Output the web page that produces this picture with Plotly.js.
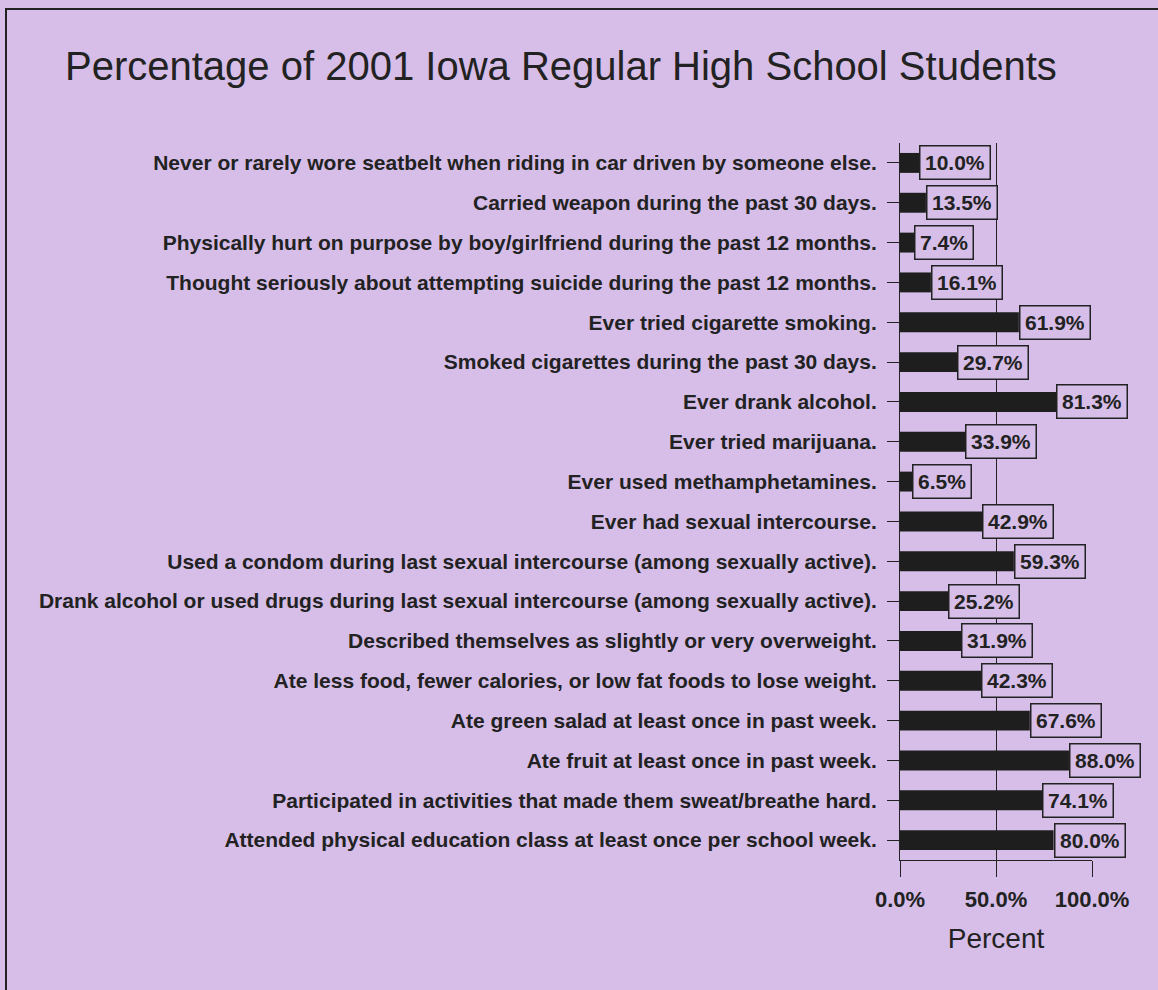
<!DOCTYPE html>
<html>
<head>
<meta charset="utf-8">
<script src="https://cdn.plot.ly/plotly-3.0.1.min.js"></script>
<style>
  html, body { margin: 0; padding: 0; background: #d6bee8; }
  #wrap { position: relative; width: 1158px; height: 990px; overflow: hidden; }
  #frame { position: absolute; left: 5px; top: 8px; width: 1200px; height: 1100px; border: 2px solid #222; box-sizing: border-box; pointer-events: none; }
  #chart { width: 1158px; height: 990px; }
</style>
</head>
<body>
<div id="wrap">
  <div id="chart"></div>
  <div id="frame"></div>
</div>
<script>
const categories = [
  "Never or rarely wore seatbelt when riding in car driven by someone else.",
  "Carried weapon during the past 30 days.",
  "Physically hurt on purpose by boy/girlfriend during the past 12 months.",
  "Thought seriously about attempting suicide during the past 12 months.",
  "Ever tried cigarette smoking.",
  "Smoked cigarettes during the past 30 days.",
  "Ever drank alcohol.",
  "Ever tried marijuana.",
  "Ever used methamphetamines.",
  "Ever had sexual intercourse.",
  "Used a condom during last sexual intercourse (among sexually active).",
  "Drank alcohol or used drugs during last sexual intercourse (among sexually active).",
  "Described themselves as slightly or very overweight.",
  "Ate less food, fewer calories, or low fat foods to lose weight.",
  "Ate green salad at least once in past week.",
  "Ate fruit at least once in past week.",
  "Participated in activities that made them sweat/breathe hard.",
  "Attended physical education class at least once per school week."
];
const percents = [10.0, 13.5, 7.4, 16.1, 61.9, 29.7, 81.3, 33.9, 6.5, 42.9, 59.3, 25.2, 31.9, 42.3, 67.6, 88.0, 74.1, 80.0];
const tickValues = [0, 50, 100];
const tickLabels = ["0.0%", "50.0%", "100.0%"];

const bg = "#d6bee8";
const ink = "#222222";
const fam = "Arial, 'Liberation Sans', sans-serif";

const trace = {
  type: "bar",
  orientation: "h",
  x: percents,
  y: categories,
  marker: { color: "#1e1e1e", line: { width: 0 } },
  hoverinfo: "none"
};

const annotations = percents.map((v, i) => ({
  x: v, y: categories[i], xref: "x", yref: "y",
  text: v.toFixed(1) + "%",
  showarrow: false,
  xanchor: "left", yanchor: "middle",
  font: { family: fam, size: 21, color: ink, weight: "bold" },
  bgcolor: bg, bordercolor: ink, borderwidth: 1.5, borderpad: 4.5
}));

const layout = {
  width: 1158, height: 990,
  paper_bgcolor: bg, plot_bgcolor: bg,
  margin: { l: 900, r: 66, t: 143, b: 130 },
  showlegend: false,
  bargap: 0.5,
  title: {
    text: "Percentage of 2001 Iowa Regular High School Students",
    font: { family: fam, size: 40, color: ink },
    x: 65 / 1158, xanchor: "left", xref: "container",
    y: 1 - 66 / 990, yanchor: "middle", yref: "container"
  },
  xaxis: {
    range: [0, 100],
    tickvals: tickValues, ticktext: tickLabels,
    ticks: "outside", ticklen: 16, tickwidth: 1, tickcolor: ink,
    showline: true, linecolor: ink, linewidth: 1,
    showgrid: true, gridcolor: ink, gridwidth: 1,
    zeroline: false,
    tickfont: { family: fam, size: 22, color: ink, weight: "bold" },
    ticklabelstandoff: 4,
    title: { text: "Percent", font: { family: fam, size: 28, color: ink }, standoff: 16 },
    fixedrange: true
  },
  yaxis: {
    type: "category",
    autorange: "reversed",
    ticks: "outside", ticklen: 12, tickwidth: 1, tickcolor: ink,
    showline: true, linecolor: ink, linewidth: 1,
    showgrid: false,
    tickfont: { family: fam, size: 21, color: ink, weight: "bold" },
    ticklabelstandoff: 6,
    fixedrange: true
  },
  annotations: annotations
};

Plotly.newPlot("chart", [trace], layout, { staticPlot: true, displayModeBar: false });
</script>
</body>
</html>
